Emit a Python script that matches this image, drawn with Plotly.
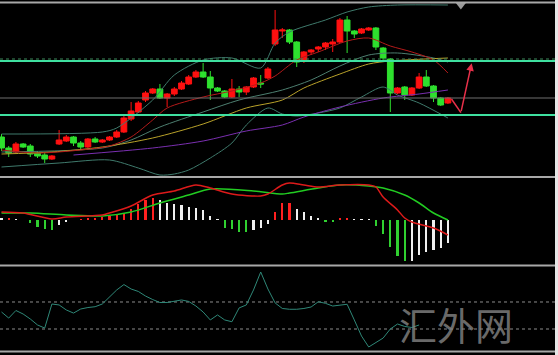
import plotly.graph_objects as go

# ---------------- data (price panel, arbitrary price units) ----------------
bars = list(range(63))
opens  = [43,32,28,36,34,27,25,21,36,39,43,37,33,41,38,40,43,48,61,68,80,87,91,82,86,91,96,103,108,103,
          92,89,83,91,88,93,97,102,136,149,150,138,119,128,131,133,136,138,160,149,147,150,152,132,121,87,93,85,92,103,
          94,82,77]
highs  = [46,34,38,37,36,29,27,25,50,45,44,39,42,43,41,44,50,64,78,79,89,92,96,87,93,99,105,110,117,109,
          93,90,101,94,94,103,105,113,170,152,151,139,129,131,134,138,141,162,164,150,152,153,153,133,122,93,94,93,107,110,
          95,83,83]
lows   = [29,23,27,32,23,22,17,20,35,38,34,30,32,37,37,39,42,47,59,67,78,86,81,73,84,90,95,102,102,80,
          88,82,82,83,85,92,92,101,134,142,136,113,117,125,128,130,128,137,127,142,146,149,130,120,68,86,80,84,91,93,
          78,74,76]
closes = [32,27,36,33,26,24,21,24,40,43,37,33,41,38,40,43,48,62,69,77,87,91,82,86,91,97,103,108,103,92,
          89,83,91,88,93,102,96,111,150,150,138,118,128,130,133,137,138,160,149,146,151,152,133,122,87,92,85,92,103,94,
          82,75,82]

ma_red_x = [0,5,11,15,18,21,23,28,32,36,38,41,44,48,51,54,57,60,62]
ma_red_y = [30,27,30,34,43,60,72,83,89,97,104,120,128,139,142,134,128,120,107]
bb_mid_x = [0,14,18,22,28,33,39,43,47,51,55,60,62]
bb_mid_y = [28,32,40,53,68,80,90,100,114,125,127,122,118]
bb_up_x  = [0,14,16,21,24,28,32,36,38,40,45,48,51,55,62]
bb_up_y  = [46,48,52,80,105,120,122,112,137,148,160,168,173,175,175]
bb_lo_x  = [0,8,15,19,22,24,26,29,32,34,37,39,41,44,47,50,53,55,58,62]
bb_lo_y  = [13,17,20,12,5,6,10,22,37,55,72,66,64,67,72,83,93,85,77,62]
ma_yel_x = [0,7,14,21,28,34,39,42,47,51,54,62]
ma_yel_y = [26,28,33,42,56,72,80,92,106,116,119,122]
ma_pur_x = [10,21,28,34,39,42,47,53,58,62]
ma_pur_y = [25,32,39,49,55,63,73,82,86,90]

green_levels = [119, 65]
gray_level = 82
dash_level = 121
forecast_x = [62.5, 63.8, 65.3]
forecast_y = [81, 67.3, 116.7]
marker_x, marker_y = 63.8, 175

# ---------------- MACD panel ----------------
macd_hist = [2,2.5,1,0,-3,-7,-9,-10,-5,-1.5,0,0.5,2,2.5,3,4,5,6.5,11.5,16,20,22.5,20,17,16.5,15,13.5,12.5,10,4.5,
             1,-8,-9,-11.5,-12,-10,-8,-4,8,16.7,17.3,10.7,8.3,4.3,1.7,-1.5,-2,1.7,1.7,1,0.7,0.3,-6,-14.3,-27.3,-36,-41,-40.7,-35,-31.7,
             -30,-28.3,-23.3]
macd_x = [0,3,7,9,14,15,18,21,24,27,29,32,36,37,39,40,42,44,47,51,52,53,55,56,57,60,62]
macd_y = [8,7,1,3,5,7,14,25,29,35,32,26,24,26,35,37,35,33,35,35,33,23,10,2,-2,-8,-15]
sig_x  = [0,4,9,14,18,22,26,29,35,39,40,44,47,51,53,56,58,60,62]
sig_y  = [7,7,5,4,8,17,25,31,29,26,27,32,35,34,32,25,17,7,0]

# ---------------- CCI panel ----------------
cci = [26,-19,37,11,-26,-70,-93,85,78,41,18,48,59,65,85,137,189,229,196,178,144,118,96,96,107,115,104,70,26,-33,
       4,-33,-46,56,78,189,322,196,93,52,46,46,52,63,102,90,70,78,83,-33,-152,-233,-200,-167,-100,-63,-81,-89,-70]
cci_levels = [100, -100]

# ---------------- figure ----------------
W, H = 558, 355
def ydom(top_px, bot_px):
    return [1 - bot_px / H, 1 - top_px / H]

fig = go.Figure()

RED, GRN = "#ff1010", "#2ee02e"
fig.add_trace(go.Candlestick(
    x=bars, open=opens, high=highs, low=lows, close=closes,
    increasing=dict(line=dict(color=RED, width=1), fillcolor=RED),
    decreasing=dict(line=dict(color=GRN, width=1), fillcolor=GRN),
    whiskerwidth=0, yaxis="y", xaxis="x", showlegend=False))

def line(x, y, color, width=1, yaxis="y", dash="solid", shape="spline"):
    fig.add_trace(go.Scatter(x=x, y=y, mode="lines", yaxis=yaxis, xaxis="x",
                             line=dict(color=color, width=width, dash=dash, shape=shape, smoothing=0.8),
                             showlegend=False, hoverinfo="skip"))

line(bb_up_x, bb_up_y, "#3f7a6c")
line(bb_lo_x, bb_lo_y, "#3f7a6c")
line(bb_mid_x, bb_mid_y, "#4d7f70")
line(ma_pur_x, ma_pur_y, "#7a2fb0")
line(ma_yel_x, ma_yel_y, "#b9a22a")
line(ma_red_x, ma_red_y, "#b51a1a")

# horizontal levels
xr = [-0.21, 77.29]
for lv in green_levels:
    line(xr, [lv, lv], "#3fe0a0", width=2, shape="linear")
line(xr, [gray_level, gray_level], "#6e6e6e", width=1, shape="linear")
line(xr, [dash_level, dash_level], "#3a8a5a", width=1, dash="dot", shape="linear")

# forecast path
line(forecast_x[:2], forecast_y[:2], "#e8304a", width=1.5, shape="linear")
fig.add_annotation(x=forecast_x[2], y=forecast_y[2], ax=forecast_x[1], ay=forecast_y[1],
                   xref="x", yref="y", axref="x", ayref="y", text="", showarrow=True,
                   arrowhead=2, arrowsize=1, arrowwidth=1.5, arrowcolor="#e8304a")
fig.add_trace(go.Scatter(x=[marker_x], y=[marker_y], mode="markers", yaxis="y",
                         marker=dict(symbol="triangle-down", size=9, color="#9a9a9a"),
                         showlegend=False, hoverinfo="skip"))

# MACD histogram colours
cols = []
for k, v in enumerate(macd_hist):
    prev = macd_hist[k - 1] if k > 0 else v + 1
    if v > 0 and v >= prev:
        cols.append("#ff2020")
    elif v < 0 and v <= prev:
        cols.append("#30d030")
    else:
        cols.append("#f0f0f0")
fig.add_trace(go.Bar(x=bars, y=macd_hist, marker=dict(color=cols, line=dict(width=0)),
                     width=0.3, yaxis="y2", xaxis="x", showlegend=False))
line(sig_x, sig_y, "#22cc22", width=1.5, yaxis="y2")
line(macd_x, macd_y, "#dd1a1a", width=1.5, yaxis="y2")

# CCI
for lv in cci_levels:
    line(xr, [lv, lv], "#8c8c8c", width=1, dash="dot", yaxis="y3", shape="linear")
line(list(range(len(cci))), cci, "#2f8878", width=1, yaxis="y3", shape="linear")

ax_common = dict(showgrid=False, zeroline=False, showticklabels=False, ticks="", showline=False)
fig.update_layout(
    width=W, height=H, margin=dict(l=0, r=0, t=0, b=0, pad=0, autoexpand=False),
    paper_bgcolor="#000000", plot_bgcolor="#000000",
    xaxis=dict(domain=[0, 1], range=xr, rangeslider=dict(visible=False), **ax_common),
    yaxis=dict(domain=ydom(3, 177), range=[3, 177], **ax_common),
    yaxis2=dict(domain=ydom(178, 265), range=[-45, 42], **ax_common),
    yaxis3=dict(domain=ydom(266, 351), range=[-262.7, 366.3], **ax_common),
    bargap=0, boxgap=0.2, boxgroupgap=0,
    showlegend=False,
)

# panel separators
for ypx in [2.5, 177, 265.5, 351.5]:
    fig.add_shape(type="line", xref="paper", yref="paper", x0=0, x1=1,
                  y0=1 - ypx / H, y1=1 - ypx / H, line=dict(color="#a8a8a8", width=2))
fig.add_shape(type="rect", xref="paper", yref="paper", x0=1 - 3 / W, x1=1, y0=0, y1=1,
              line=dict(width=0), fillcolor="#e6e6e6")

fig.add_annotation(text="汇外网", xref="paper", yref="paper", x=515 / W, y=1 - 353 / H,
                   xanchor="right", yanchor="bottom",
                   showarrow=False, font=dict(family="Noto Sans CJK SC", size=38,
                                              color="rgba(135,135,135,0.8)"))

fig.write_html("out.html")
